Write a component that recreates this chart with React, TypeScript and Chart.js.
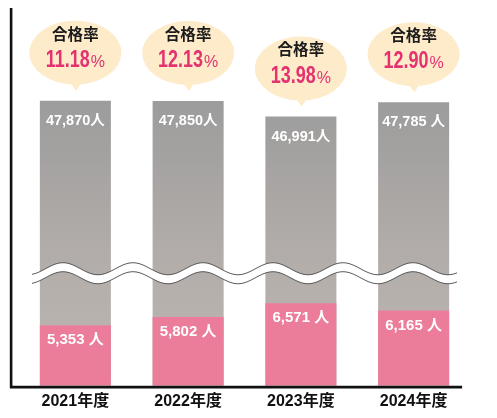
import React, { useRef, useEffect } from 'react';
import { Chart, registerables, LinearScale } from 'chart.js';

// ============================================
// DATOS
// ============================================

const years = ['2021年度', '2022年度', '2023年度', '2024年度'];
const applicants = [47870, 47850, 46991, 47785]; // 受験者数
const applicantSuffix = ['人', '人', '人', ' 人'];
const passers = [5353, 5802, 6571, 6165]; // 合格者数
const passRates = [11.18, 12.13, 13.98, 12.9]; // 合格率 (%)

// eje Y cortado: el tramo entre BREAK_LOW y BREAK_HIGH se comprime
const Y_MIN = 2000;
const Y_MAX = 53000;
const BREAK_LOW = 8230;
const BREAK_HIGH = 38320;

const SANS = '"Liberation Sans", "Noto Sans CJK JP", sans-serif';
const CJK = '"Noto Sans CJK JP", sans-serif';

// ============================================
// ESCALA CON CORTE
// ============================================

class BrokenLinearScale extends LinearScale {
  static id = 'brokenLinear';

  squeeze(v: number) {
    if (v <= BREAK_LOW) return v;
    if (v >= BREAK_HIGH) return v - (BREAK_HIGH - BREAK_LOW);
    return BREAK_LOW;
  }

  getPixelForValue(value: number) {
    const lo = this.min;
    const hi = this.squeeze(this.max);
    const v = this.squeeze(Math.max(value, lo));
    return this.getPixelForDecimal((v - lo) / (hi - lo));
  }

  getValueForPixel(pixel: number) {
    const lo = this.min;
    const hi = this.squeeze(this.max);
    const v = lo + this.getDecimalForPixel(pixel) * (hi - lo);
    return v <= BREAK_LOW ? v : v + (BREAK_HIGH - BREAK_LOW);
  }
}

Chart.register(...registerables, BrokenLinearScale);

// ============================================
// PLUGIN: ejes, onda, etiquetas y globos
// ============================================

const overlayPlugin = {
  id: 'overlay',
  afterDatasetsDraw(chart: any) {
    const { ctx, chartArea, scales } = chart;
    const x = scales.x;
    const y = scales.y;
    const pinkMeta = chart.getDatasetMeta(0);
    const grayMeta = chart.getDatasetMeta(1);

    ctx.save();

    // onda de corte
    const w0 = x.getPixelForValue(-0.385);
    const w1 = x.getPixelForValue(3.385);
    const mid = y.getPixelForValue(BREAK_LOW);
    const amp = 6;
    const period = 70;
    const band = 9;
    const top: [number, number][] = [];
    for (let px = w0; px <= w1; px += 1) {
      const py = mid - band / 2 - amp * Math.cos((2 * Math.PI * (px - w0 - 31)) / period);
      top.push([px, py]);
    }
    ctx.beginPath();
    top.forEach(([px, py], i) => (i ? ctx.lineTo(px, py) : ctx.moveTo(px, py)));
    for (let i = top.length - 1; i >= 0; i--) ctx.lineTo(top[i][0], top[i][1] + band);
    ctx.closePath();
    ctx.fillStyle = '#ffffff';
    ctx.fill();
    ctx.strokeStyle = '#555555';
    ctx.lineWidth = 1;
    ctx.beginPath();
    top.forEach(([px, py], i) => (i ? ctx.lineTo(px, py) : ctx.moveTo(px, py)));
    ctx.stroke();
    ctx.beginPath();
    top.forEach(([px, py], i) => (i ? ctx.lineTo(px, py + band) : ctx.moveTo(px, py + band)));
    ctx.stroke();

    // ejes
    const axLeft = x.getPixelForValue(-0.57);
    const axRight = x.getPixelForValue(3.43);
    ctx.strokeStyle = '#111111';
    ctx.lineWidth = 2.6;
    ctx.beginPath();
    ctx.moveTo(axLeft, chartArea.top);
    ctx.lineTo(axLeft, chartArea.bottom + 1.3);
    ctx.lineTo(axRight, chartArea.bottom + 1.3);
    ctx.stroke();

    // etiquetas de barras
    ctx.fillStyle = '#ffffff';
    ctx.textAlign = 'center';
    ctx.textBaseline = 'middle';
    ctx.font = `bold 14.5px ${SANS}`;
    grayMeta.data.forEach((bar: any, i: number) => {
      ctx.fillText(`${applicants[i].toLocaleString('en-US')}${applicantSuffix[i]}`, bar.x, bar.y + 20);
    });
    ctx.font = `bold 15px ${SANS}`;
    pinkMeta.data.forEach((bar: any, i: number) => {
      ctx.fillText(`${passers[i].toLocaleString('en-US')} 人`, bar.x, bar.y + 15);
    });

    // globos de 合格率
    const rx = 46;
    const ry = 32;
    grayMeta.data.forEach((bar: any, i: number) => {
      const cx = bar.x;
      const tipY = bar.y - 10;
      const cy = tipY - 6 - ry;
      ctx.fillStyle = '#FDEBCA';
      ctx.beginPath();
      ctx.ellipse(cx, cy, rx, ry, 0, 0, Math.PI * 2);
      ctx.fill();
      ctx.beginPath();
      ctx.moveTo(cx - 7, cy + ry - 4);
      ctx.lineTo(cx + 7, cy + ry - 4);
      ctx.lineTo(cx + 1, tipY);
      ctx.closePath();
      ctx.fill();

      ctx.fillStyle = '#1a1a1a';
      ctx.textAlign = 'center';
      ctx.textBaseline = 'middle';
      ctx.font = `bold 15.5px ${CJK}`;
      ctx.fillText('合格率', cx, cy - 19);

      const num = passRates[i].toFixed(2);
      const squash = 0.78;
      ctx.font = `bold 23px ${SANS}`;
      const numW = ctx.measureText(num).width * squash;
      ctx.font = `16px ${SANS}`;
      const pctW = ctx.measureText('%').width;
      const startX = cx - (numW + 1 + pctW) / 2;
      const base = cy + 14;
      ctx.fillStyle = '#E4316F';
      ctx.textAlign = 'left';
      ctx.textBaseline = 'alphabetic';
      ctx.save();
      ctx.translate(startX, base);
      ctx.scale(squash, 1);
      ctx.font = `bold 23px ${SANS}`;
      ctx.fillText(num, 0, 0);
      ctx.restore();
      ctx.font = `16px ${SANS}`;
      ctx.fillText('%', startX + numW + 1, base);
    });

    ctx.restore();
  }
};

// ============================================
// COMPONENTE
// ============================================

const App: React.FC = () => {
  const chartRef = useRef<HTMLCanvasElement>(null);
  const chartInstanceRef = useRef<Chart | null>(null);

  useEffect(() => {
    if (!chartRef.current) return;
    const ctx = chartRef.current.getContext('2d');
    if (!ctx) return;

    if (chartInstanceRef.current) chartInstanceRef.current.destroy();

    const grayGradient = (c: any) => {
      const { chart } = c;
      const area = chart.chartArea;
      if (!area) return '#aaaaaa';
      const g = chart.ctx.createLinearGradient(0, area.top, 0, area.bottom);
      g.addColorStop(0, '#979797');
      g.addColorStop(0.24, '#9c9c9c');
      g.addColorStop(0.69, '#b4aeab');
      g.addColorStop(1, '#bdb6b3');
      return g;
    };

    chartInstanceRef.current = new Chart(ctx, {
      type: 'bar',
      data: {
        labels: years,
        datasets: [
          {
            label: '合格者数',
            data: passers,
            backgroundColor: '#EC7D9A',
            order: 0,
            grouped: false,
            barPercentage: 0.63,
            categoryPercentage: 1
          },
          {
            label: '受験者数',
            data: applicants,
            backgroundColor: grayGradient,
            order: 1,
            grouped: false,
            barPercentage: 0.63,
            categoryPercentage: 1
          }
        ]
      },
      options: {
        responsive: true,
        maintainAspectRatio: false,
        animation: false,
        layout: { padding: { left: 19, right: 27, top: 8, bottom: 1 } },
        plugins: {
          legend: { display: false },
          tooltip: { enabled: false }
        },
        scales: {
          x: {
            grid: { display: false, drawTicks: false },
            border: { display: false },
            ticks: {
              color: '#111111',
              padding: 6,
              font: { family: SANS, size: 16, weight: 'bold' }
            }
          },
          y: {
            type: 'brokenLinear' as any,
            min: Y_MIN,
            max: Y_MAX,
            display: false
          }
        }
      },
      plugins: [overlayPlugin]
    });

    return () => {
      if (chartInstanceRef.current) {
        chartInstanceRef.current.destroy();
        chartInstanceRef.current = null;
      }
    };
  }, []);

  return (
    <div style={{ position: 'fixed', left: 0, top: 0, width: 497, height: 418, background: '#ffffff' }}>
      <canvas ref={chartRef} />
    </div>
  );
};

export default App;
